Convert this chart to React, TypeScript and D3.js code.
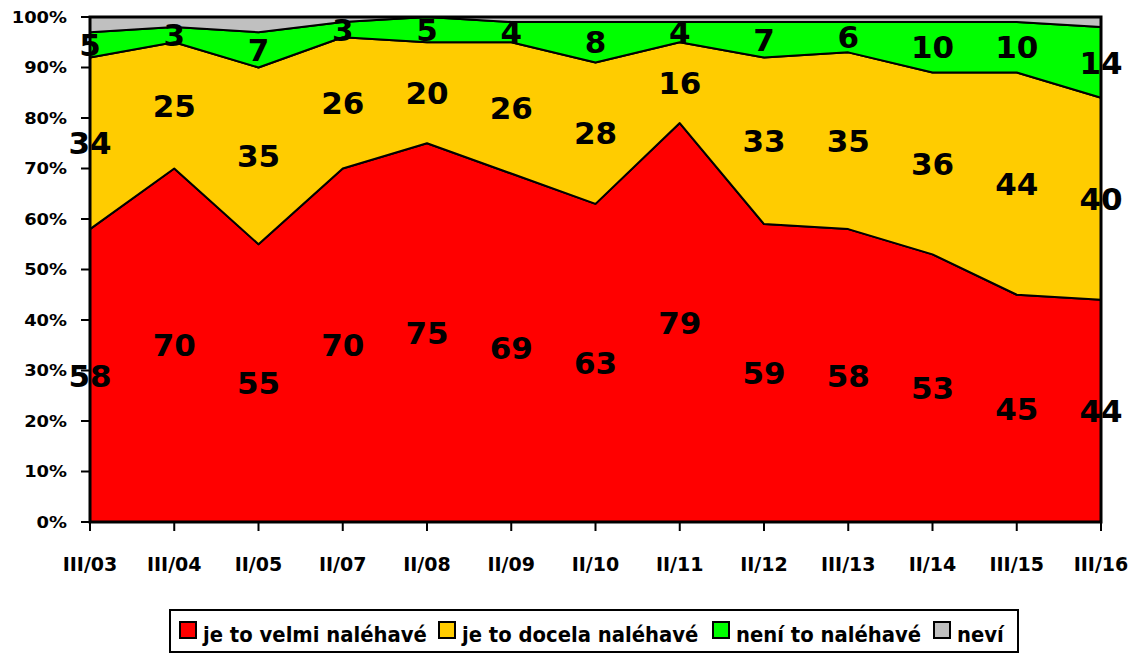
import * as d3 from 'd3';

const categories = ['III/03', 'III/04', 'II/05', 'II/07', 'II/08', 'II/09', 'II/10', 'II/11', 'II/12', 'III/13', 'II/14', 'III/15', 'III/16'];
const velmi = [58, 70, 55, 70, 75, 69, 63, 79, 59, 58, 53, 45, 44];
const docela = [34, 25, 35, 26, 20, 26, 28, 16, 33, 35, 36, 44, 40];
const neni = [5, 3, 7, 3, 5, 4, 8, 4, 7, 6, 10, 10, 14];
const nevi = [3, 2, 3, 1, 0, 1, 1, 1, 1, 1, 1, 1, 2];

const seriesKeys = ['velmi', 'docela', 'neni', 'nevi'];
const seriesNames = ['je to velmi naléhavé', 'je to docela naléhavé', 'není to naléhavé', 'neví'];
const seriesColors = ['#ff0000', '#ffcc00', '#00ff00', '#c0c0c0'];
const labelledSeries = ['velmi', 'docela', 'neni'];
const yTicks = [0, 10, 20, 30, 40, 50, 60, 70, 80, 90, 100];

const W = 1141;
const H = 655;
const FONT = '"DejaVu Sans", sans-serif';

export default function App() {
  const rows = categories.map((c, i) => ({
    cat: c, velmi: velmi[i], docela: docela[i], neni: neni[i], nevi: nevi[i],
  }));
  const stacked = d3.stack<any>().keys(seriesKeys)(rows);

  const x = d3.scalePoint().domain(categories).range([90, 1101]);
  const y = d3.scaleLinear().domain([0, 100]).range([522, 17]);

  const area = d3.area<any>()
    .x((d) => x(d.data.cat) as number)
    .y0((d) => y(d[0]))
    .y1((d) => y(d[1]));

  const txt = (tx: number, ty: number, s: string, size: number, anchor: string, sx: number, key?: string) => (
    <g key={key} transform={`translate(${tx},${ty}) scale(${sx},1)`}>
      <text textAnchor={anchor} dy="0.36em" fontSize={size} fontWeight="bold" fontFamily={FONT} fill="#000">{s}</text>
    </g>
  );

  // legend square positions (text follows each square)
  const legendSq = [180, 439, 713, 934];

  return (
    <div style={{ position: 'fixed', left: 0, top: 0 }}>
      <svg width={W} height={H} style={{ display: 'block', background: '#fff' }}>
        {stacked.map((s, i) => (
          <path key={s.key} d={area(s) || ''} fill={seriesColors[i]} stroke="#000" strokeWidth={2} strokeLinejoin="round" />
        ))}
        {/* plot frame */}
        <rect x={90} y={17} width={1011} height={505} fill="none" stroke="#000" strokeWidth={3} />
        {yTicks.map((t) => (
          <g key={'y' + t}>
            <line x1={81} x2={90} y1={y(t)} y2={y(t)} stroke="#000" strokeWidth={2} />
            {txt(67, y(t), t + '%', 16, 'end', 1.12)}
          </g>
        ))}
        {categories.map((c) => (
          <g key={'x' + c}>
            <line x1={x(c)} x2={x(c)} y1={522} y2={531} stroke="#000" strokeWidth={2} />
            {txt(x(c) as number, 564, c, 19, 'middle', 1.0)}
          </g>
        ))}
        {stacked.filter((s) => labelledSeries.includes(s.key)).map((s) =>
          s.map((d, j) =>
            txt(x(d.data.cat) as number, y((d[0] + d[1]) / 2), String(d[1] - d[0]), 31, 'middle', 1.0, s.key + j)
          )
        )}
        {/* legend */}
        <rect x={170} y={610} width={848} height={42} fill="#fff" stroke="#000" strokeWidth={2} />
        {legendSq.map((sq, i) => (
          <g key={'lg' + i}>
            <rect x={sq} y={622} width={16} height={16} fill={seriesColors[i]} stroke="#000" strokeWidth={2} />
            <g transform={`translate(${sq + 23},642) scale(0.935,1)`}>
              <text fontSize={21} fontWeight="bold" fontFamily={FONT}>{seriesNames[i]}</text>
            </g>
          </g>
        ))}
      </svg>
    </div>
  );
}
